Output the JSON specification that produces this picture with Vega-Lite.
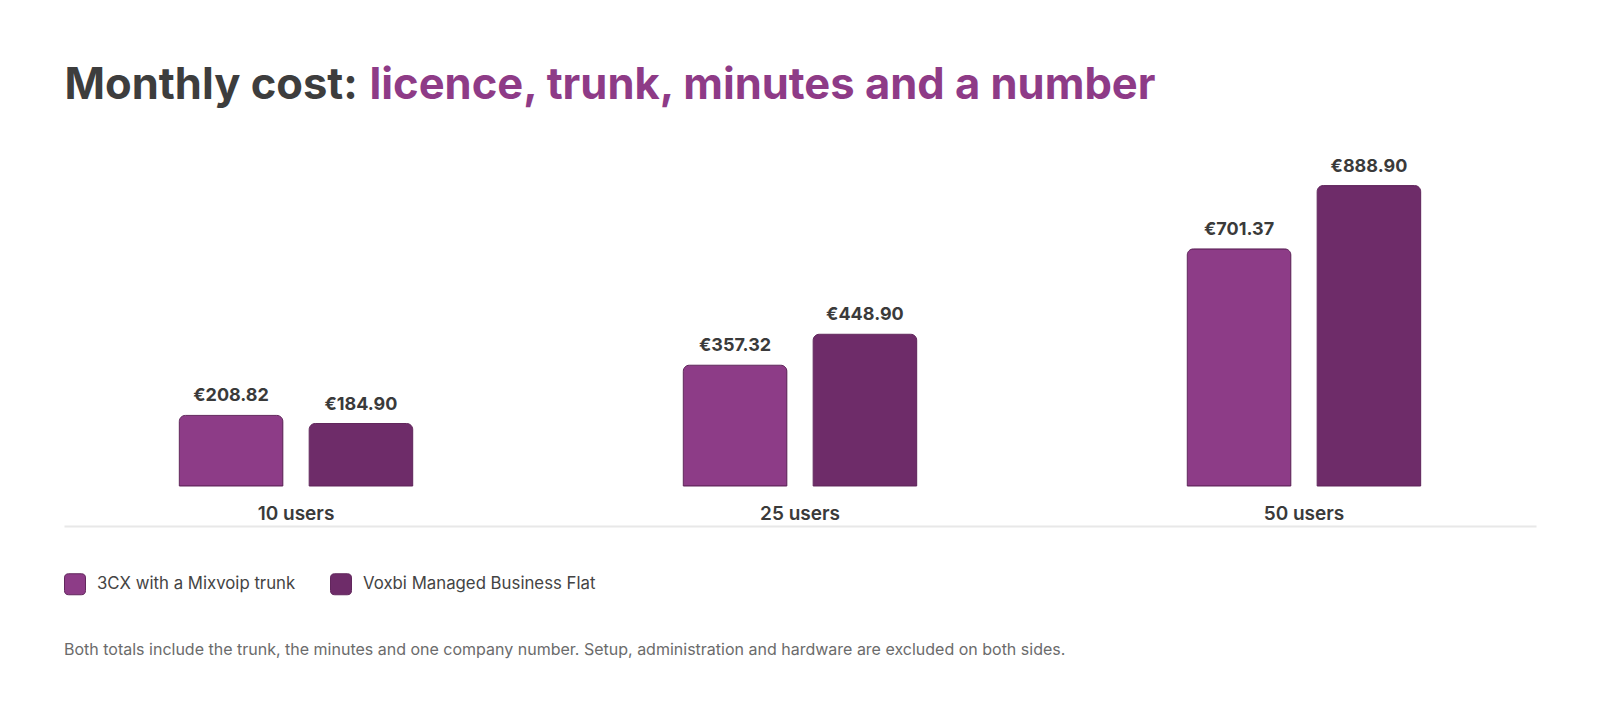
{
  "$schema": "https://vega.github.io/schema/vega-lite/v6.json",
  "width": 1472,
  "height": 338,
  "autosize": {"type": "none"},
  "padding": {"left": 64, "top": 148, "right": 64, "bottom": 227},
  "background": "#ffffff",
  "title": {
    "text": "Both totals include the trunk, the minutes and one company number. Setup, administration and hardware are excluded on both sides.",
    "orient": "bottom",
    "anchor": "start",
    "frame": "group",
    "offset": 58,
    "baseline": "alphabetic",
    "color": "#6b6b6b",
    "font": "Inter",
    "fontSize": 16,
    "fontWeight": 400
  },
  "data": {
    "values": [
      {"group": "10 users", "plan": "3CX with a Mixvoip trunk", "cost": 208.82},
      {"group": "10 users", "plan": "Voxbi Managed Business Flat", "cost": 184.90},
      {"group": "25 users", "plan": "3CX with a Mixvoip trunk", "cost": 357.32},
      {"group": "25 users", "plan": "Voxbi Managed Business Flat", "cost": 448.90},
      {"group": "50 users", "plan": "3CX with a Mixvoip trunk", "cost": 701.37},
      {"group": "50 users", "plan": "Voxbi Managed Business Flat", "cost": 888.90}
    ]
  },
  "encoding": {
    "x": {
      "field": "group",
      "type": "nominal",
      "scale": {"paddingInner": 0.5369, "paddingOuter": 0.2288},
      "axis": {
        "title": "licence, trunk, minutes and a number",
        "titleX": 305,
        "titleY": -428,
        "titleAlign": "left",
        "titleAnchor": "start",
        "titleBaseline": "alphabetic",
        "titleFont": "Inter",
        "titleFontSize": 43.5,
        "titleFontWeight": 700,
        "titleColor": "#8e3b87",
        "offset": 40,
        "ticks": false,
        "tickSize": 0,
        "labelPadding": -13,
        "labelBaseline": "middle",
        "labelAngle": 0,
        "labelFont": "Inter",
        "labelFontSize": 19,
        "labelFontWeight": 600,
        "labelColor": "#3a3a3a",
        "domainColor": "#e8e8e8",
        "domainWidth": 2
      }
    },
    "xOffset": {
      "field": "plan",
      "type": "nominal",
      "scale": {"paddingInner": 0.2028, "paddingOuter": 0}
    },
    "y": {
      "field": "cost",
      "type": "quantitative",
      "scale": {"domain": [0, 1000]},
      "axis": {
        "title": "Monthly cost:",
        "titleAngle": 0,
        "titleX": 0,
        "titleY": -50,
        "titleAlign": "left",
        "titleBaseline": "alphabetic",
        "titleFont": "Inter",
        "titleFontSize": 43.5,
        "titleFontWeight": 700,
        "titleColor": "#3d3d3d",
        "labels": false,
        "ticks": false,
        "domain": false,
        "grid": false
      }
    }
  },
  "layer": [
    {
      "mark": {
        "type": "bar",
        "cornerRadiusTopLeft": 6,
        "cornerRadiusTopRight": 6,
        "stroke": "#62275d",
        "strokeWidth": 1
      },
      "encoding": {
        "color": {
          "field": "plan",
          "type": "nominal",
          "scale": {
            "domain": ["3CX with a Mixvoip trunk", "Voxbi Managed Business Flat"],
            "range": ["#8d3c87", "#6e2c69"]
          },
          "legend": {
            "title": null,
            "orient": "none",
            "legendX": 0,
            "legendY": 425,
            "padding": 0,
            "direction": "horizontal",
            "symbolType": "M -0.6 -1 L 0.6 -1 Q 1 -1 1 -0.6 L 1 0.6 Q 1 1 0.6 1 L -0.6 1 Q -1 1 -1 0.6 L -1 -0.6 Q -1 -1 -0.6 -1 Z",
            "symbolSize": 441,
            "symbolStrokeColor": "#62275d",
            "symbolStrokeWidth": 1,
            "symbolOpacity": 1,
            "labelFont": "Inter",
            "labelFontSize": 16.8,
            "labelColor": "#444444",
            "labelOffset": 11,
            "labelLimit": 400,
            "columnPadding": 32
          }
        }
      }
    },
    {
      "mark": {
        "type": "text",
        "baseline": "alphabetic",
        "dy": -14,
        "font": "Inter",
        "fontSize": 18,
        "fontWeight": 700,
        "color": "#3a3a3a"
      },
      "encoding": {
        "text": {"field": "cost", "type": "quantitative", "format": "$.2f"}
      }
    }
  ],
  "config": {
    "view": {"stroke": null},
    "locale": {"number": {"decimal": ".", "thousands": ",", "grouping": [3], "currency": ["€", ""]}}
  }
}
